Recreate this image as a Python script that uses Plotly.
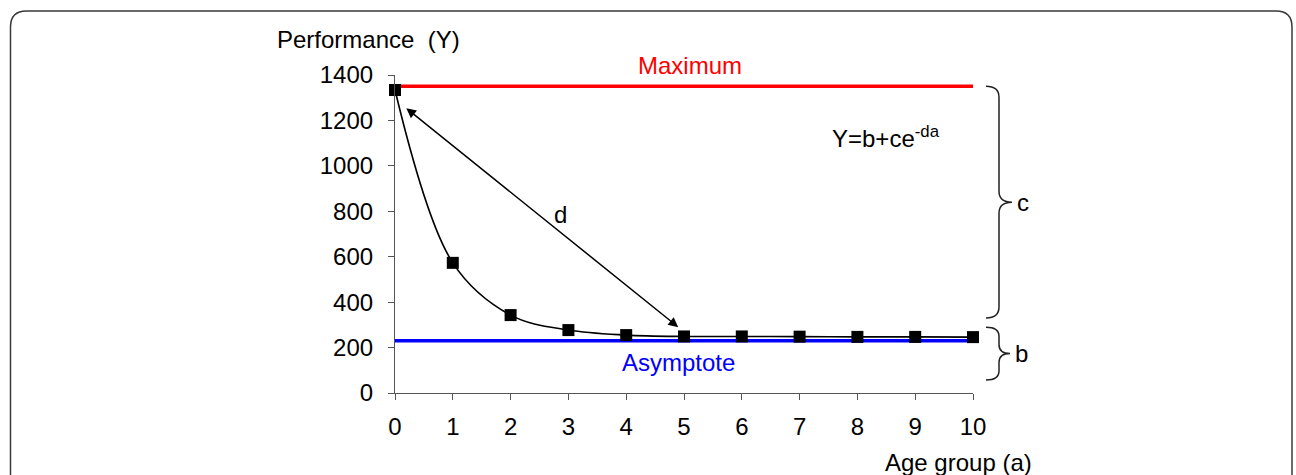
import plotly.graph_objects as go

# ---- data ----
age_group = [0, 1, 2, 3, 4, 5, 6, 7, 8, 9, 10]
performance = [1334, 573, 343, 277, 255, 249, 249, 248, 247, 247, 246]
maximum_value = 1350
asymptote_value = 230
x_ticks = [0, 1, 2, 3, 4, 5, 6, 7, 8, 9, 10]
y_ticks = [0, 200, 400, 600, 800, 1000, 1200, 1400]
c_brace_span = [330, 1350]   # in y units
b_brace_span = [57, 290]
d_arrow_from = [0.17, 1259]
d_arrow_to = [4.9, 290]

# ---- layout geometry (pixels) ----
WIDTH, HEIGHT = 1296, 475
L, R, T, B = 395, 973, 75, 393
PW, PH = R - L, B - T
YMAX = 1400
FONT = "Liberation Sans, Arial, sans-serif"


def pxx(px):
    return (px - L) / PW


def pxy(py):
    return (B - py) / PH


def vy(v):
    return v / YMAX


fig = go.Figure()

# maximum & asymptote lines
fig.add_trace(go.Scatter(x=[x_ticks[0], x_ticks[-1]], y=[maximum_value] * 2, mode="lines",
                         line=dict(color="#ff0000", width=3.5), hoverinfo="skip", showlegend=False))
fig.add_trace(go.Scatter(x=[x_ticks[0], x_ticks[-1]], y=[asymptote_value] * 2, mode="lines",
                         line=dict(color="#0000ff", width=3.5), hoverinfo="skip", showlegend=False))
# curve
fig.add_trace(go.Scatter(x=age_group, y=performance, mode="lines+markers",
                         line=dict(color="black", width=1.6, shape="spline", smoothing=1.0),
                         marker=dict(symbol="square", size=12, color="black"),
                         showlegend=False, cliponaxis=False))

shapes = []
# outer rounded frame
x0, x1 = pxx(10.5), pxx(1292)
y0, y1 = pxy(11), pxy(490)
rx, ry = 16 / PW, 16 / PH
frame = (f"M {x0+rx},{y0} L {x1-rx},{y0} Q {x1},{y0} {x1},{y0-ry} "
         f"L {x1},{y1} L {x0},{y1} L {x0},{y0-ry} Q {x0},{y0} {x0+rx},{y0} Z")
shapes.append(dict(type="path", xref="paper", yref="paper", path=frame,
                   line=dict(color="#3a3a3a", width=1.5), layer="below"))


def brace(span, px0, px1, px2, r_px=11):
    lo, hi = span
    ytop, ybot = vy(hi), vy(lo)
    ymid = (ytop + ybot) / 2
    a, b_, c = pxx(px0), pxx(px1), pxx(px2)
    r = r_px / PH
    return (f"M {a},{ytop} Q {b_},{ytop} {b_},{ytop-r} L {b_},{ymid+r} "
            f"Q {b_},{ymid} {c},{ymid} Q {b_},{ymid} {b_},{ymid-r} "
            f"L {b_},{ybot+r} Q {b_},{ybot} {a},{ybot}")


shapes.append(dict(type="path", xref="paper", yref="paper",
                   path=brace(c_brace_span, 986, 999, 1012), line=dict(color="#222", width=1.5)))
shapes.append(dict(type="path", xref="paper", yref="paper",
                   path=brace(b_brace_span, 986, 999, 1010, r_px=9), line=dict(color="#222", width=1.5)))

annotations = [
    dict(text="Performance  (Y)", xref="paper", yref="paper", x=pxx(275), y=pxy(39),
         xanchor="left", yanchor="middle", showarrow=False, font=dict(size=24, color="black", family=FONT)),
    dict(text="Age group (a)", xref="paper", yref="paper", x=pxx(1034), y=pxy(462),
         xanchor="right", yanchor="middle", showarrow=False, font=dict(size=24, color="black", family=FONT)),
    dict(text="Maximum", xref="x", yref="paper", x=5.1, y=pxy(65), xanchor="center", yanchor="middle",
         showarrow=False, font=dict(size=24, color="#ff0000", family=FONT)),
    dict(text="Asymptote", xref="x", yref="paper", x=4.9, y=pxy(362), xanchor="center", yanchor="middle",
         showarrow=False, font=dict(size=24, color="#0000ff", family=FONT)),
    dict(text="Y=b+ce<sup>-da</sup>", xref="paper", yref="paper", x=pxx(830), y=pxy(137),
         xanchor="left", yanchor="middle", showarrow=False, font=dict(size=24, color="black", family=FONT)),
    dict(text="d", xref="x", yref="y", x=2.87, y=784, xanchor="center", yanchor="middle", showarrow=False,
         font=dict(size=24, color="black", family=FONT)),
    dict(text="c", xref="paper", yref="paper", x=pxx(1023), y=vy(sum(c_brace_span) / 2),
         xanchor="center", yanchor="middle", showarrow=False,
         font=dict(size=24, color="black", family=FONT)),
    dict(text="b", xref="paper", yref="paper", x=pxx(1021), y=vy(sum(b_brace_span) / 2),
         xanchor="center", yanchor="middle", showarrow=False,
         font=dict(size=24, color="black", family=FONT)),
    dict(text="", x=d_arrow_to[0], y=d_arrow_to[1], ax=d_arrow_from[0], ay=d_arrow_from[1],
         xref="x", yref="y", axref="x", ayref="y", showarrow=True, arrowhead=2, startarrowhead=2,
         arrowside="end+start", arrowsize=1.3, startarrowsize=1.3, arrowwidth=1.5, arrowcolor="black",
         standoff=0, startstandoff=0),
]

fig.update_layout(
    width=WIDTH, height=HEIGHT,
    margin=dict(l=L, r=WIDTH - R, t=T, b=HEIGHT - B, pad=0),
    paper_bgcolor="white", plot_bgcolor="white",
    font=dict(family=FONT, size=24, color="black"),
    shapes=shapes, annotations=annotations,
    xaxis=dict(range=[0, 10], tickvals=x_ticks, ticktext=[str(v) for v in x_ticks],
               showgrid=False, zeroline=False, showline=True, linecolor="#555", linewidth=1.2,
               ticks="outside", ticklen=6, tickcolor="#555", tickwidth=1.2,
               tickfont=dict(size=24, family=FONT, color="black"), ticklabelstandoff=6),
    yaxis=dict(range=[0, YMAX], tickvals=y_ticks, ticktext=[str(v) for v in y_ticks],
               showgrid=False, zeroline=False, showline=True, linecolor="#555", linewidth=1.2,
               ticks="outside", ticklen=6, tickcolor="#555", tickwidth=1.2,
               tickfont=dict(size=24, family=FONT, color="black"), ticklabelstandoff=10),
)

fig.write_html("out.html")
